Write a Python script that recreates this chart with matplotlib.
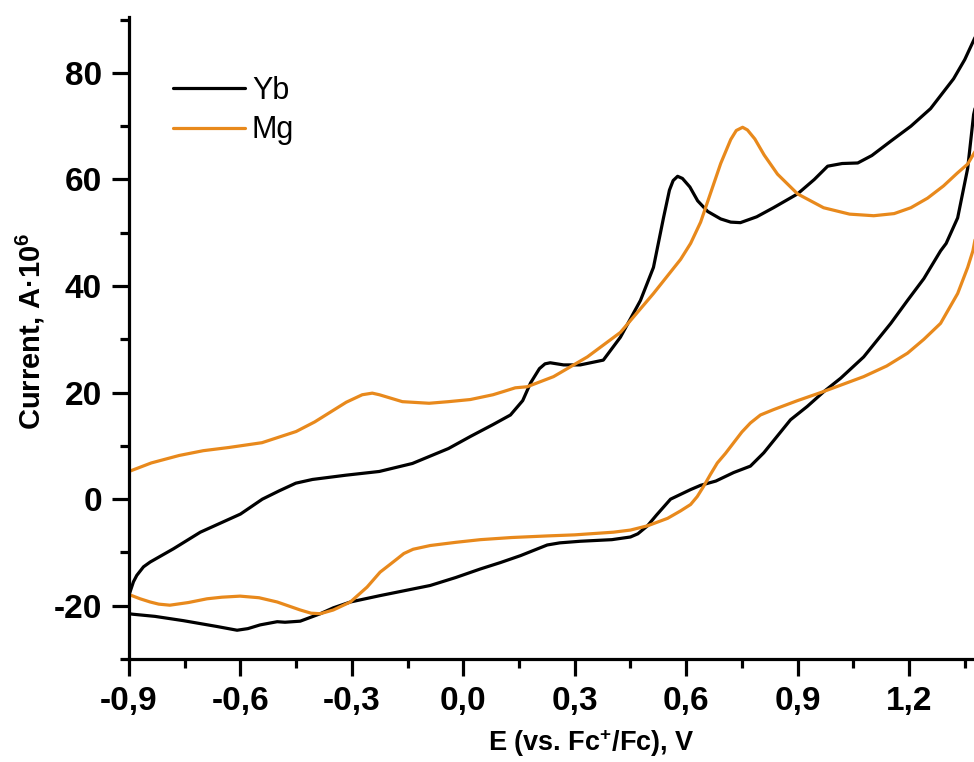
import numpy as np
import matplotlib
matplotlib.use("Agg")
import matplotlib.pyplot as plt
from matplotlib.ticker import MultipleLocator, FuncFormatter

plt.rcParams['font.family'] = ['Liberation Sans', 'DejaVu Sans']
plt.rcParams['mathtext.fontset'] = 'custom'
plt.rcParams['mathtext.rm'] = 'Liberation Sans:bold'
plt.rcParams['mathtext.bf'] = 'Liberation Sans:bold'
plt.rcParams['mathtext.it'] = 'Liberation Sans:bold'

# ---- data (E in V vs Fc+/Fc, current in A*1e6) ----
yb_fwd_x = [-0.90, -0.888, -0.879, -0.861, -0.843, -0.780, -0.708, -0.60, -0.541, -0.496,
            -0.451, -0.406, -0.316, -0.226, -0.137, -0.092, -0.04, 0.02, 0.08, 0.127,
            0.16, 0.181, 0.205, 0.22, 0.234, 0.27, 0.315, 0.377, 0.423, 0.477,
            0.512, 0.539, 0.555, 0.565, 0.577, 0.59, 0.61, 0.631, 0.658, 0.693,
            0.72, 0.746, 0.79, 0.835, 0.90, 0.945, 0.981, 1.02, 1.062, 1.10,
            1.151, 1.205, 1.258, 1.320, 1.350, 1.38]
yb_fwd_y = [-18.0, -15.5, -14.3, -12.7, -11.8, -9.3, -6.2, -2.8, 0.0, 1.55,
            3.0, 3.7, 4.5, 5.2, 6.7, 8.0, 9.5, 11.8, 14.0, 15.8,
            18.5, 21.8, 24.5, 25.4, 25.6, 25.2, 25.2, 26.1, 30.4, 37.3,
            43.5, 52.8, 58.0, 59.8, 60.6, 60.2, 58.6, 56.0, 54.0, 52.6,
            52.0, 51.9, 53.0, 54.7, 57.3, 60.0, 62.5, 63.0, 63.1, 64.5,
            67.2, 70.0, 73.3, 78.9, 82.5, 87.0]

yb_rev_x = [1.38, 1.374, 1.358, 1.331, 1.30, 1.285, 1.240, 1.196, 1.151, 1.078,
            1.016, 0.971, 0.926, 0.881, 0.845, 0.809, 0.773, 0.728, 0.68, 0.639,
            0.612, 0.585, 0.558, 0.52, 0.496, 0.470, 0.450, 0.40, 0.315, 0.26,
            0.226, 0.19, 0.154, 0.10, 0.046, -0.02, -0.089, -0.16, -0.224, -0.304,
            -0.35, -0.385, -0.439, -0.48, -0.501, -0.547, -0.58, -0.609, -0.663, -0.754,
            -0.83, -0.889, -0.90]
yb_rev_y = [74.0, 72.2, 62.1, 52.8, 48.0, 46.6, 41.4, 37.3, 33.0, 26.7,
            22.7, 20.2, 17.4, 14.9, 11.8, 8.7, 6.2, 5.0, 3.4, 2.6,
            1.8, 0.9, 0.0, -3.0, -5.0, -6.5, -7.1, -7.6, -7.9, -8.2,
            -8.6, -9.6, -10.6, -11.9, -13.1, -14.7, -16.2, -17.2, -18.1, -19.3,
            -20.4, -21.5, -22.9, -23.1, -23.0, -23.6, -24.3, -24.6, -23.9, -22.8,
            -22.0, -21.6, -21.5]

mg_fwd_x = [-0.90, -0.84, -0.765, -0.70, -0.631, -0.542, -0.450, -0.40, -0.361, -0.315,
            -0.272, -0.245, -0.226, -0.164, -0.092, -0.04, 0.019, 0.08, 0.108, 0.14,
            0.172, 0.243, 0.334, 0.423, 0.512, 0.585, 0.612, 0.639, 0.666, 0.693,
            0.72, 0.735, 0.752, 0.765, 0.785, 0.810, 0.846, 0.900, 0.970, 1.04,
            1.105, 1.16, 1.205, 1.25, 1.293, 1.330, 1.358, 1.38]
mg_fwd_y = [5.2, 6.8, 8.2, 9.1, 9.7, 10.6, 12.7, 14.5, 16.2, 18.2,
            19.6, 19.9, 19.6, 18.3, 18.0, 18.3, 18.7, 19.6, 20.2, 20.9,
            21.1, 23.0, 26.7, 31.3, 38.6, 45.0, 48.0, 52.0, 57.5, 63.0,
            67.5, 69.2, 69.8, 69.3, 67.6, 64.6, 61.0, 57.3, 54.7, 53.5,
            53.2, 53.6, 54.7, 56.5, 58.8, 61.2, 62.9, 65.5]

mg_rev_x = [1.38, 1.372, 1.358, 1.331, 1.285, 1.240, 1.196, 1.140, 1.078, 1.020,
            0.962, 0.900, 0.835, 0.800, 0.773, 0.750, 0.728, 0.706, 0.684, 0.665,
            0.647, 0.630, 0.612, 0.585, 0.55, 0.496, 0.45, 0.404, 0.30, 0.226,
            0.13, 0.046, -0.02, -0.089, -0.135, -0.160, -0.178, -0.200, -0.224, -0.259,
            -0.304, -0.350, -0.385, -0.410, -0.439, -0.501, -0.55, -0.601, -0.650, -0.690,
            -0.74, -0.790, -0.82, -0.843, -0.870, -0.90]
mg_rev_y = [49.5, 46.6, 43.5, 38.6, 33.0, 30.0, 27.4, 25.0, 23.0, 21.5,
            20.0, 18.5, 16.8, 15.8, 14.3, 12.6, 10.6, 8.6, 6.8, 4.6,
            2.4, 0.5, -1.0, -2.2, -3.6, -5.0, -5.8, -6.2, -6.7, -6.9,
            -7.2, -7.6, -8.1, -8.7, -9.4, -10.2, -11.2, -12.4, -13.7, -16.5,
            -19.3, -20.8, -21.5, -21.4, -20.8, -19.3, -18.5, -18.2, -18.4, -18.7,
            -19.4, -19.9, -19.7, -19.3, -18.7, -17.9]

series_labels = ["Yb", "Mg"]
x_ticks = [-0.9, -0.6, -0.3, 0.0, 0.3, 0.6, 0.9, 1.2]
y_ticks = [-20, 0, 20, 40, 60, 80]

c_yb = "#000000"
c_mg = "#E8891C"

fig = plt.figure(figsize=(9.74, 7.62), dpi=100)
ax = fig.add_axes([129/974, 103/762, 845/974, 642/762])

lw = 2.3
kw = dict(lw=lw, solid_joinstyle='round', solid_capstyle='round')
ax.plot(yb_fwd_x, yb_fwd_y, color=c_yb, label=series_labels[0], **kw)
ax.plot(yb_rev_x, yb_rev_y, color=c_yb, **kw)
ax.plot(mg_fwd_x, mg_fwd_y, color=c_mg, label=series_labels[1], **kw)
ax.plot(mg_rev_x, mg_rev_y, color=c_mg, **kw)

ax.set_xlim(-0.9, 1.375)
ax.set_ylim(-30, 90.5)

for s in ['top', 'right']:
    ax.spines[s].set_visible(False)
for s in ['left', 'bottom']:
    ax.spines[s].set_linewidth(2.3)

ax.set_xticks(x_ticks)
ax.set_yticks(y_ticks)
ax.xaxis.set_minor_locator(MultipleLocator(0.15))
ax.yaxis.set_minor_locator(MultipleLocator(10))
ax.xaxis.set_major_formatter(FuncFormatter(lambda v, p: f"{v:.1f}".replace('.', ',')))
ax.yaxis.set_major_formatter(FuncFormatter(lambda v, p: f"{v:.0f}"))
ax.tick_params(which='major', direction='out', length=12.5, width=2.3, pad=7)
ax.tick_params(which='minor', direction='out', length=6.5, width=2.3)
for lab in ax.get_xticklabels() + ax.get_yticklabels():
    lab.set_fontsize(24)
    lab.set_fontweight('bold')

ax.set_xlabel(r"E (vs. Fc$^{\mathbf{+}}$/Fc), V", fontsize=19.5, fontweight='bold')
ax.set_ylabel(r"Current, A·10$^{\mathbf{6}}$", fontsize=21, fontweight='bold')
ax.xaxis.set_label_coords((591-129)/845, (659-727)/642)
ax.yaxis.set_label_coords((47-129)/845, (659-331)/642)

leg = ax.legend(loc='upper left', bbox_to_anchor=((173-129)/845, (659-76)/642),
                frameon=False, fontsize=22, handlelength=2.35, handletextpad=0.23,
                labelspacing=0.31, borderpad=0, borderaxespad=0)

fig.savefig("out.png", dpi=100)
